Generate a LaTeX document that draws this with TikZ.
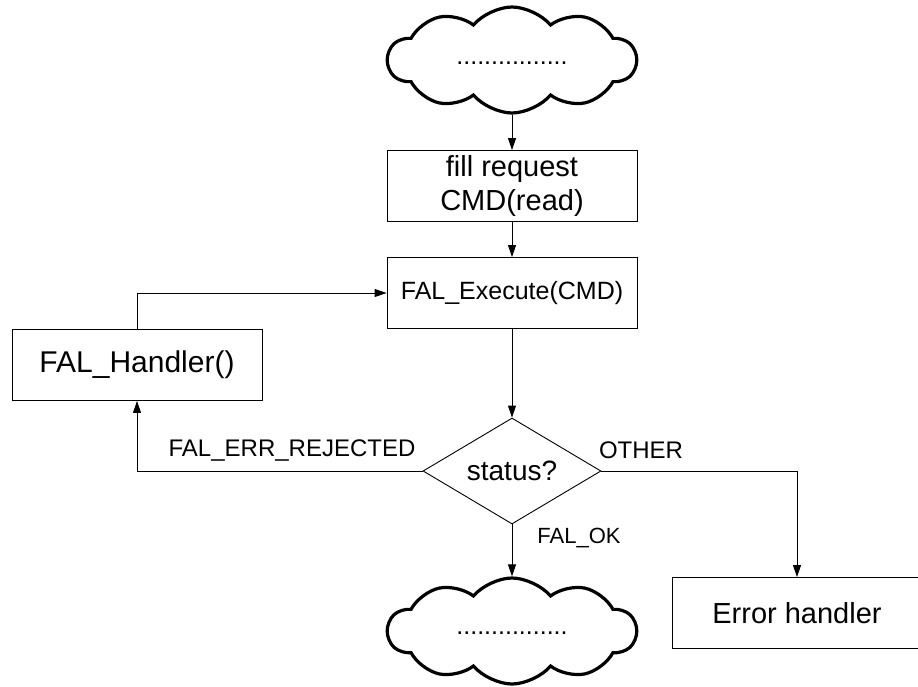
\documentclass[tikz,border=0pt]{standalone}
\usepackage{fontspec}
\setmainfont{Liberation Sans}
\usetikzlibrary{shapes.geometric, shapes.symbols, arrows.meta}

\begin{document}
\begin{tikzpicture}[x=1pt, y=-1pt,
  box/.style={draw, line width=0.9pt, minimum width=250pt, minimum height=71pt,
    align=center, inner sep=0pt},
  puff/.style={cloud, draw, line width=3.2pt, cloud puffs=10, cloud puff arc=100,
    aspect=2.3, minimum width=248pt, minimum height=106pt, inner sep=0pt,
    font=\fontsize{25}{28}\selectfont},
  arr/.style={-{Triangle[length=12pt, width=8pt]}, line width=0.9pt},
  lbl/.style={inner sep=0pt}]
  \useasboundingbox (0,0) rectangle (918,686);

  % start and end of the flow
  \node[puff] (top) at (512,60) {\raisebox{-8pt}{................}};
  \node[puff] (bottom) at (512,631) {\raisebox{-6pt}{................}};

  % boxes
  \node[box, font=\fontsize{29}{34}\selectfont] (fill) at (512,186) {fill request\\CMD(read)};
  \node[box, font=\fontsize{25}{30}\selectfont] (exec) at (512,293) {FAL\_Execute(CMD)};
  \node[box, font=\fontsize{30}{34}\selectfont] (handler) at (137,365) {FAL\_Handler()};
  \node[box, font=\fontsize{29}{34}\selectfont] (err) at (797,613) {Error handler};

  % decision
  \node[diamond, draw, line width=0.9pt, aspect=1.68, minimum width=178pt,
    minimum height=106pt, inner sep=0pt, font=\fontsize{28}{32}\selectfont]
    (status) at (512,471) {status?};

  % branch labels
  \node[lbl, font=\fontsize{24}{26}\selectfont] (rejlbl) at (292,450) {FAL\_ERR\_REJECTED};
  \node[lbl, font=\fontsize{24}{26}\selectfont] (otherlbl) at (641,450) {OTHER};
  \node[lbl, font=\fontsize{22}{24}\selectfont] (oklbl) at (579,538) {FAL\_OK};

  % connectors
  \draw[arr] (top) -- (fill);
  \draw[arr] (fill) -- (exec);
  \draw[arr] (exec) -- (status);
  \draw[arr] (status) -- (bottom);
  \draw[arr] (handler.north) |- (exec.west);
  \draw[arr] (status.west) -| (handler.south);
  \draw[arr] (status.east) -| (err.north);
\end{tikzpicture}
\end{document}
